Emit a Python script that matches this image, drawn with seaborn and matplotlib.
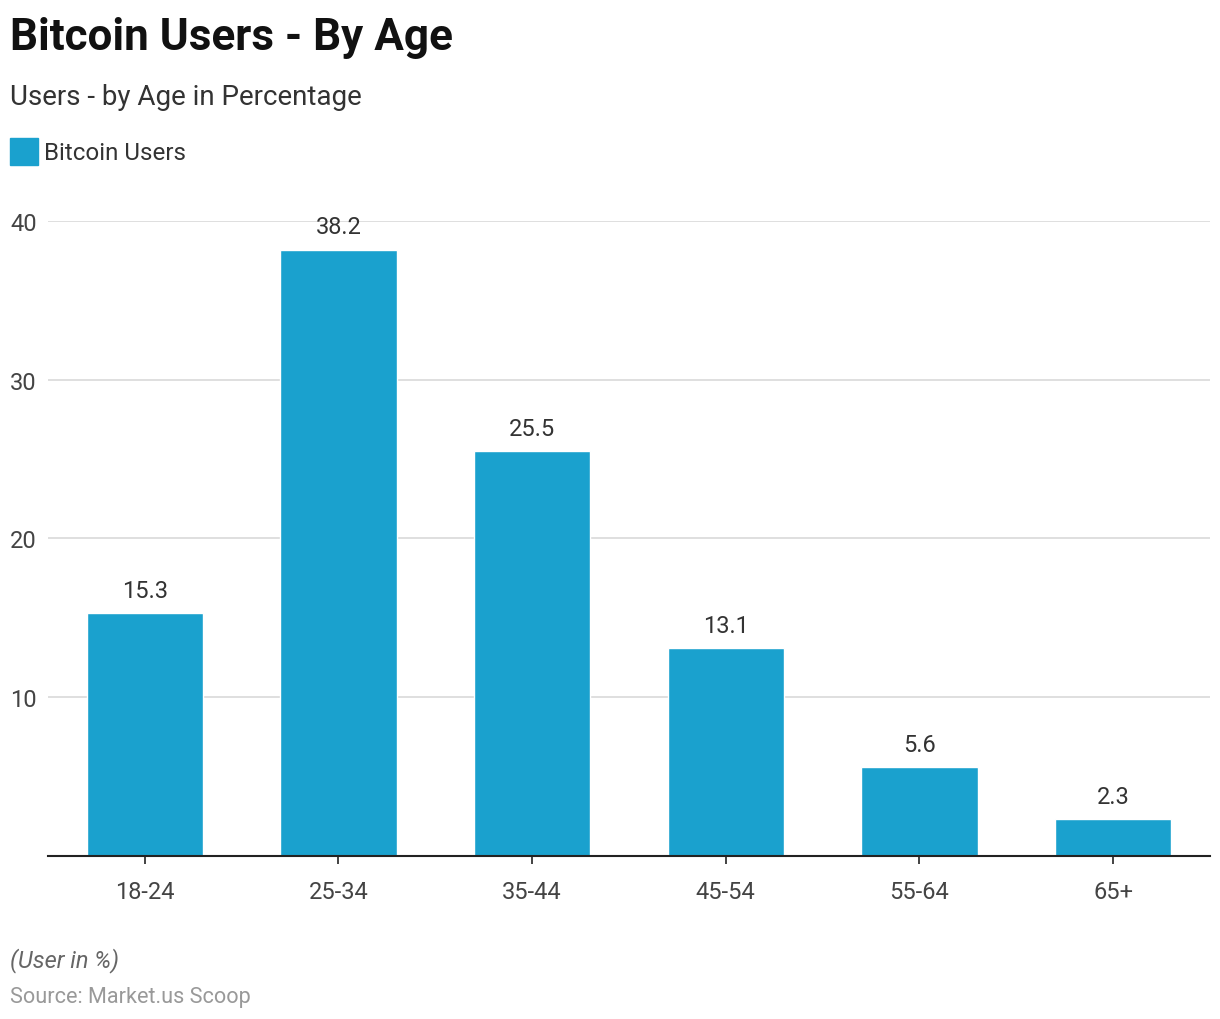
import matplotlib.pyplot as plt
import seaborn as sns
import pandas as pd

# Chart data
age_groups = ["18-24", "25-34", "35-44", "45-54", "55-64", "65+"]
users_pct = [15.3, 38.2, 25.5, 13.1, 5.6, 2.3]
y_ticks = [10, 20, 30, 40]

bar_color = "#1aa1ce"

sns.set_theme(style="white")
plt.rcParams['font.family'] = ['Roboto', 'DejaVu Sans']

df = pd.DataFrame({'age': age_groups, 'users': users_pct})

fig = plt.figure(figsize=(12.2, 10.2), dpi=100)
ax = fig.add_axes([0.0393, 0.1598, 0.9525, 0.6226])

sns.barplot(data=df, x='age', y='users', color=bar_color, width=0.6,
            saturation=1, ax=ax, zorder=3)

ax.set_xlim(-0.5, 5.5)
ax.set_ylim(0, 40)
ax.set_yticks(y_ticks)
ax.yaxis.grid(True, color='#d9d9d9', linewidth=1.2, zorder=0)
ax.set_axisbelow(True)
for s in ['top', 'right', 'left']:
    ax.spines[s].set_visible(False)
ax.spines['bottom'].set_color('#222222')
ax.spines['bottom'].set_linewidth(1.5)
ax.spines['bottom'].set_zorder(4)
ax.tick_params(axis='x', bottom=True, length=6, width=1.2, color='#222222',
               labelsize=17, labelcolor='#444444', pad=11)
ax.tick_params(axis='y', left=False, length=0, labelsize=17,
               labelcolor='#444444', pad=8)
ax.set_xlabel('')
ax.set_ylabel('')

# value labels
for i, v in enumerate(users_pct):
    ax.annotate(f"{v}", (i, v), xytext=(0, 8), textcoords='offset points',
                ha='center', va='bottom', fontsize=17, color='#333333')

# titles and legend
fig.text(0.008, 0.963, "Bitcoin Users - By Age", fontsize=31.7, fontweight='bold',
         color='#111111', va='center', ha='left')
fig.text(0.008, 0.904, "Users - by Age in Percentage", fontsize=20,
         color='#333333', va='center', ha='left')
fig.patches.append(plt.Rectangle((0.008, 0.8375), 0.023, 0.026, color=bar_color,
                                 transform=fig.transFigure, figure=fig))
fig.text(0.036, 0.850, "Bitcoin Users", fontsize=17.4, color='#333333',
         va='center', ha='left')

# footer
fig.text(0.008, 0.058, "(User in %)", fontsize=17, fontstyle='italic',
         color='#666666', va='center', ha='left')
fig.text(0.008, 0.022, "Source: Market.us Scoop", fontsize=15.6,
         color='#999999', va='center', ha='left')

fig.savefig('out.png', dpi=100)
